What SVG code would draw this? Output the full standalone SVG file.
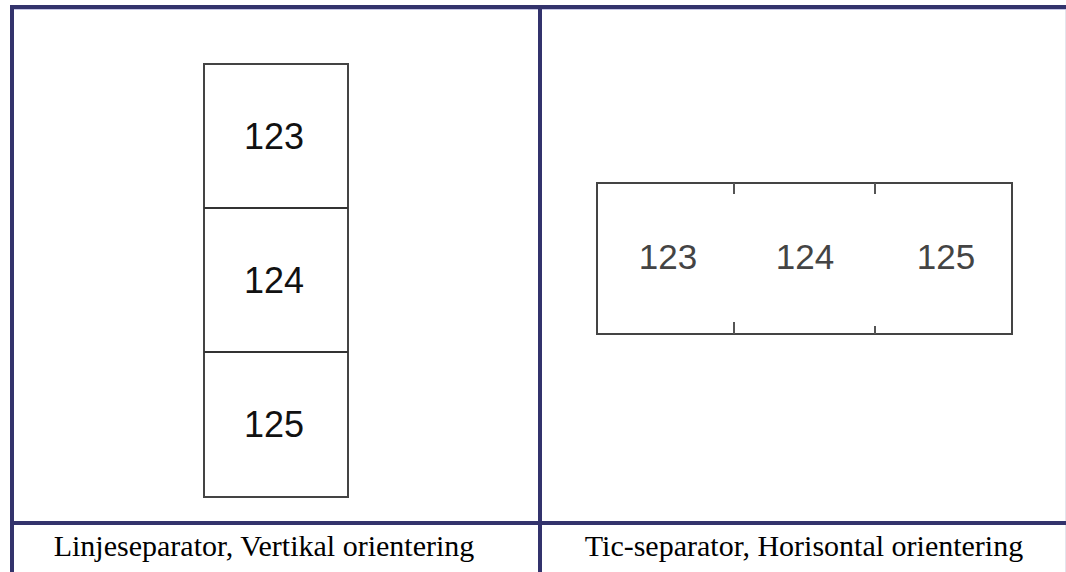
<svg xmlns="http://www.w3.org/2000/svg" width="1066" height="572" viewBox="0 0 1066 572">
<style>
.grid{stroke:#33336c;stroke-width:4;fill:none}
.box{fill:#fff;stroke:#444;stroke-width:2}
.num{font-family:"Liberation Sans",Arial,sans-serif;font-size:36px;fill:#111;text-anchor:middle}
.num2{font-family:"Liberation Sans",Arial,sans-serif;font-size:35px;fill:#444;text-anchor:middle}
.cap{font-family:"Liberation Serif","Times New Roman",serif;font-size:30px;fill:#000;text-anchor:middle}
</style>
<rect width="1066" height="572" fill="#fff"/>
<g id="table">
<line x1="1065.5" y1="9" x2="1065.5" y2="572" stroke="#e4e4ec" stroke-width="1"/>
<line x1="14" y1="9.5" x2="1066" y2="9.5" stroke="#c4c4e4" stroke-width="1"/>
<line class="grid" x1="10" y1="7" x2="1066" y2="7"/>
<line class="grid" x1="12" y1="5" x2="12" y2="572"/>
<line class="grid" x1="540" y1="5" x2="540" y2="572"/>
<line class="grid" x1="12" y1="523" x2="1066" y2="523"/>
</g>
<g id="vertical-label">
<rect class="box" x="204" y="64" width="144" height="433"/>
<line x1="204" y1="208" x2="348" y2="208" stroke="#333" stroke-width="2"/>
<line x1="204" y1="352" x2="348" y2="352" stroke="#333" stroke-width="2"/>
<text class="num" x="274" y="149">123</text>
<text class="num" x="274" y="293">124</text>
<text class="num" x="274" y="437">125</text>
</g>
<g id="horizontal-label">
<rect class="box" x="597" y="183" width="415" height="151" fill="#fdfdfd" stroke="#555"/>
<line x1="734" y1="183" x2="734" y2="194" stroke="#555" stroke-width="2"/>
<line x1="875" y1="183" x2="875" y2="194" stroke="#555" stroke-width="2"/>
<line x1="734" y1="322" x2="734" y2="334" stroke="#555" stroke-width="2"/>
<line x1="875" y1="326" x2="875" y2="334" stroke="#555" stroke-width="2"/>
<text class="num2" x="668" y="269">123</text>
<text class="num2" x="805" y="269">124</text>
<text class="num2" x="946" y="269">125</text>
</g>
<g id="captions">
<text class="cap" x="264" y="556">Linjeseparator, Vertikal orientering</text>
<text class="cap" x="804" y="556">Tic-separator, Horisontal orientering</text>
</g>
</svg>
